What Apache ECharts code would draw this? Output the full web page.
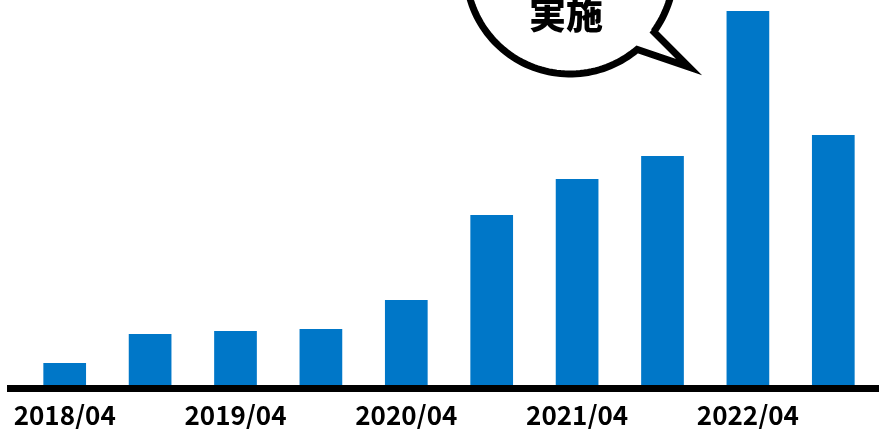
<!DOCTYPE html>
<html><head><meta charset="utf-8">
<script src="https://cdn.jsdelivr.net/npm/echarts@6/dist/echarts.min.js"></script>
<style>html,body{margin:0;padding:0;background:#fff}#c{width:879px;height:429px}</style>
</head><body><div id="c"></div>
<script>
var categories = ['2018/04','2018/10','2019/04','2019/10','2020/04','2020/10','2021/04','2021/10','2022/04','2022/10'];
var values = [22, 51, 54, 56, 85, 170, 206, 229, 374, 250];
var bubbleText = '実施';

// speech bubble outline: circle arc + tail
var cx = 570, cy = -30, r = 104;
var a1 = Math.atan2(48 - cy, 636 - cx);   // tail lower base
var a2 = Math.atan2(30 - cy, 652 - cx) + Math.PI * 2; // tail upper base, going the long way
var pts = [[652, 30], [689, 67]];
var n = 160;
for (var i = 0; i <= n; i++) {
  var a = a1 + (a2 - a1) * i / n;
  pts.push([cx + r * Math.cos(a), cy + r * Math.sin(a)]);
}

var chart = echarts.init(document.getElementById('c'), null, {renderer:'canvas'});
chart.setOption({
  animation:false,
  grid:{left:22, right:3, top:5, bottom:44},
  xAxis:{type:'category', data:categories,
    axisLine:{show:false}, axisTick:{show:false},
    axisLabel:{interval:1, margin:17, color:'#000', fontSize:26, fontWeight:'bold', fontFamily:'Noto Sans CJK JP'}},
  yAxis:{type:'value', min:0, max:380, show:false, splitLine:{show:false}},
  series:[{type:'bar', data:values, barWidth:'50%', itemStyle:{color:'#0077C8'}}],
  graphic:[
    {type:'line', shape:{x1:7, y1:388.5, x2:879, y2:388.5}, style:{stroke:'#000', lineWidth:7}, z:10},
    {type:'polygon', shape:{points:pts}, style:{fill:'#fff', stroke:'#000', lineWidth:7, lineJoin:'miter'}, z:20},
    {type:'text', x:566, y:15, style:{text:bubbleText, fill:'#000', font:'900 37px "Noto Sans CJK JP"', align:'center', verticalAlign:'middle'}, z:21}
  ]
});
</script></body></html>
